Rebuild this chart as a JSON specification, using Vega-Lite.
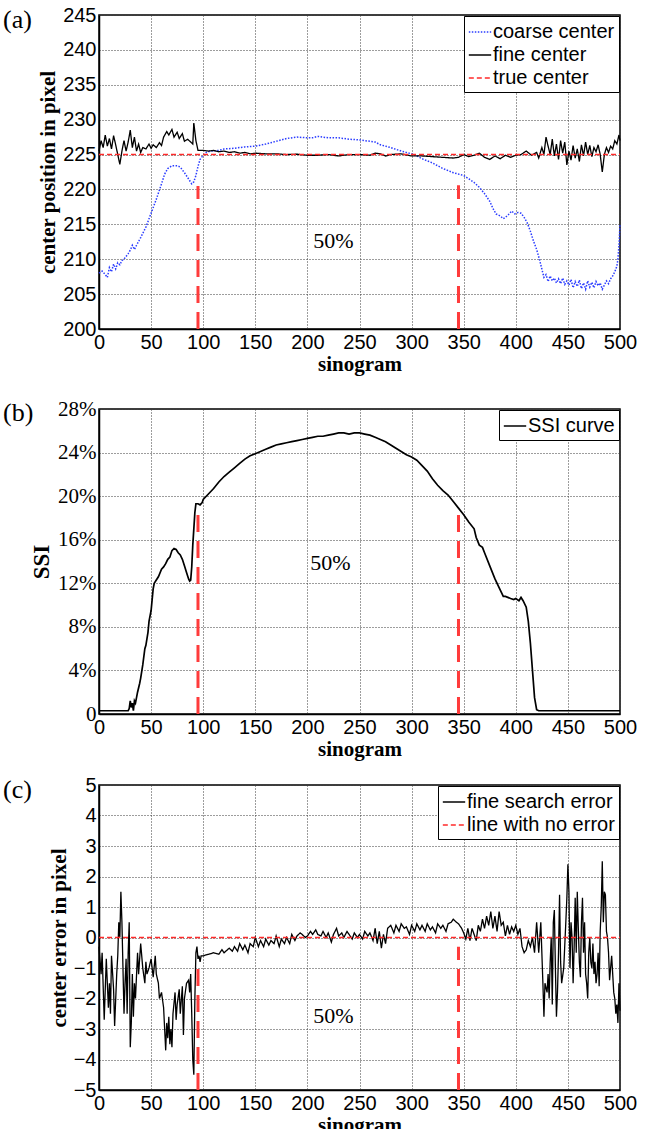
{
"$schema": "https://vega.github.io/schema/vega-lite/v6.json",
"padding": {"left": 2, "top": 4, "right": 0, "bottom": 0},
"background": "white",
"datasets": {
"coarse": [{"s":0,"v":208},{"s":3,"v":208.3},{"s":6,"v":207.8},{"s":8,"v":207.4},{"s":10,"v":208.8},{"s":12,"v":208.2},{"s":14,"v":209.3},{"s":16,"v":208.6},{"s":18,"v":209.5},{"s":20,"v":209.2},{"s":22,"v":209.8},{"s":25,"v":210.2},{"s":28,"v":210.8},{"s":30,"v":211.3},{"s":32,"v":212},{"s":34,"v":211.4},{"s":36,"v":212},{"s":40,"v":213.1},{"s":45,"v":214.6},{"s":50,"v":216.6},{"s":55,"v":218.6},{"s":60,"v":220.8},{"s":63,"v":222.2},{"s":66,"v":223},{"s":70,"v":223.4},{"s":75,"v":223.4},{"s":78,"v":223.2},{"s":82,"v":222.4},{"s":86,"v":221.5},{"s":89,"v":220.8},{"s":91,"v":221.1},{"s":93,"v":222},{"s":95,"v":223.3},{"s":97,"v":224.3},{"s":100,"v":224.9},{"s":103,"v":225.3},{"s":107,"v":225.5},{"s":115,"v":225.6},{"s":120,"v":225.8},{"s":130,"v":225.9},{"s":140,"v":226.1},{"s":150,"v":226.2},{"s":160,"v":226.5},{"s":170,"v":226.9},{"s":180,"v":227.3},{"s":190,"v":227.5},{"s":200,"v":227.4},{"s":205,"v":227.4},{"s":210,"v":227.6},{"s":220,"v":227.4},{"s":230,"v":227.4},{"s":240,"v":227.2},{"s":250,"v":227.1},{"s":260,"v":226.9},{"s":265,"v":226.8},{"s":270,"v":226.4},{"s":280,"v":226},{"s":290,"v":225.5},{"s":300,"v":225.1},{"s":305,"v":224.8},{"s":310,"v":224.4},{"s":320,"v":223.8},{"s":330,"v":223},{"s":340,"v":222.4},{"s":350,"v":222},{"s":355,"v":221.5},{"s":360,"v":221},{"s":365,"v":220.3},{"s":370,"v":219.4},{"s":375,"v":218.3},{"s":378,"v":217.3},{"s":381,"v":216.5},{"s":385,"v":216.2},{"s":388,"v":215.8},{"s":390,"v":216},{"s":393,"v":216.4},{"s":396,"v":216.9},{"s":399,"v":216.5},{"s":402,"v":216.7},{"s":405,"v":216.6},{"s":408,"v":216},{"s":411,"v":215.2},{"s":414,"v":214},{"s":417,"v":212.6},{"s":420,"v":211.4},{"s":423,"v":209.8},{"s":425,"v":208.6},{"s":427,"v":207.4},{"s":429,"v":207.8},{"s":431,"v":206.8},{"s":433,"v":207.6},{"s":435,"v":206.9},{"s":437,"v":207.3},{"s":439,"v":206.6},{"s":441,"v":207.2},{"s":443,"v":206.5},{"s":445,"v":207.3},{"s":447,"v":206.4},{"s":449,"v":206.9},{"s":451,"v":206.3},{"s":453,"v":207.1},{"s":455,"v":205.9},{"s":457,"v":206.8},{"s":459,"v":206.1},{"s":461,"v":207},{"s":463,"v":205.8},{"s":465,"v":206.6},{"s":467,"v":205.7},{"s":469,"v":206.9},{"s":471,"v":206},{"s":473,"v":206.7},{"s":475,"v":205.9},{"s":477,"v":206.8},{"s":479,"v":206.2},{"s":481,"v":206.6},{"s":483,"v":205.7},{"s":485,"v":206.3},{"s":487,"v":206.9},{"s":489,"v":206.5},{"s":491,"v":207.2},{"s":493,"v":207.6},{"s":495,"v":208.2},{"s":497,"v":209},{"s":498,"v":210},{"s":499,"v":212},{"s":500,"v":215}],
"fine": [{"s":0,"v":225.5},{"s":2,"v":227},{"s":4,"v":226},{"s":6,"v":227.8},{"s":8,"v":226.2},{"s":10,"v":227.3},{"s":12,"v":225.8},{"s":14,"v":227.7},{"s":16,"v":226.4},{"s":18,"v":225},{"s":20,"v":223.6},{"s":22,"v":225.5},{"s":24,"v":227},{"s":26,"v":225.5},{"s":28,"v":226.8},{"s":30,"v":228.5},{"s":32,"v":226},{"s":34,"v":227.5},{"s":36,"v":225.5},{"s":38,"v":226.5},{"s":40,"v":225.3},{"s":42,"v":226},{"s":45,"v":225.8},{"s":48,"v":226.5},{"s":50,"v":225.9},{"s":52,"v":226.4},{"s":55,"v":226},{"s":58,"v":226.7},{"s":60,"v":226.3},{"s":62,"v":227.5},{"s":65,"v":228.3},{"s":67,"v":227.8},{"s":70,"v":228.6},{"s":72,"v":227.5},{"s":75,"v":228.2},{"s":77,"v":227.3},{"s":80,"v":228},{"s":82,"v":226.9},{"s":85,"v":227.2},{"s":88,"v":226.8},{"s":90,"v":226.5},{"s":91,"v":229.5},{"s":93,"v":227},{"s":95,"v":225.6},{"s":100,"v":225.6},{"s":105,"v":225.5},{"s":110,"v":225.6},{"s":115,"v":225.4},{"s":120,"v":225.5},{"s":125,"v":225.3},{"s":130,"v":225.4},{"s":135,"v":225.2},{"s":140,"v":225.3},{"s":145,"v":225.1},{"s":150,"v":225.2},{"s":160,"v":225.1},{"s":170,"v":225.1},{"s":180,"v":225},{"s":190,"v":225.05},{"s":200,"v":224.9},{"s":210,"v":224.9},{"s":220,"v":225},{"s":230,"v":224.8},{"s":240,"v":225},{"s":250,"v":225},{"s":260,"v":224.9},{"s":265,"v":225.2},{"s":270,"v":225.1},{"s":275,"v":224.8},{"s":280,"v":225},{"s":290,"v":225.1},{"s":300,"v":224.8},{"s":310,"v":224.8},{"s":320,"v":224.7},{"s":330,"v":224.6},{"s":340,"v":224.5},{"s":345,"v":224.6},{"s":350,"v":225},{"s":355,"v":224.7},{"s":360,"v":224.9},{"s":365,"v":225.2},{"s":370,"v":224.6},{"s":375,"v":224.3},{"s":380,"v":224.8},{"s":385,"v":224.4},{"s":390,"v":224.9},{"s":395,"v":224.6},{"s":400,"v":224.9},{"s":405,"v":225},{"s":410,"v":225.5},{"s":415,"v":224.9},{"s":420,"v":225.3},{"s":422,"v":224.5},{"s":425,"v":226},{"s":427,"v":225},{"s":429,"v":227.5},{"s":431,"v":226.2},{"s":433,"v":225},{"s":435,"v":227.2},{"s":437,"v":224.8},{"s":439,"v":226.5},{"s":441,"v":224.3},{"s":443,"v":227},{"s":445,"v":225.2},{"s":447,"v":226.8},{"s":449,"v":223.5},{"s":451,"v":225.5},{"s":453,"v":224.2},{"s":455,"v":226.3},{"s":457,"v":224.5},{"s":459,"v":225.8},{"s":461,"v":224},{"s":463,"v":226.4},{"s":465,"v":224.8},{"s":467,"v":226.8},{"s":469,"v":225},{"s":471,"v":226.3},{"s":473,"v":224.7},{"s":475,"v":226},{"s":477,"v":225.4},{"s":479,"v":226.4},{"s":481,"v":225},{"s":483,"v":222.5},{"s":485,"v":225},{"s":487,"v":226},{"s":489,"v":225.3},{"s":491,"v":226.2},{"s":493,"v":225.8},{"s":495,"v":227},{"s":497,"v":226.5},{"s":499,"v":227.8},{"s":500,"v":227}],
"trueA": [{"s":0,"v":225},{"s":500,"v":225}],
"vA": [{"s":95,"lo":200,"hi":220.5},{"s":345,"lo":200,"hi":220.6}],
"tA": [{"s":225,"v":212.6,"t":"50%"}],
"ssi": [{"s":0,"v":0.3},{"s":10,"v":0.3},{"s":20,"v":0.3},{"s":28,"v":0.3},{"s":29,"v":0.5},{"s":30,"v":1.2},{"s":31,"v":0.6},{"s":32,"v":1.0},{"s":33,"v":0.3},{"s":34,"v":1.2},{"s":35,"v":1.0},{"s":37,"v":2.0},{"s":39,"v":2.8},{"s":40,"v":3.3},{"s":42,"v":4.5},{"s":44,"v":6.0},{"s":45,"v":6.3},{"s":47,"v":7.5},{"s":48,"v":8.5},{"s":50,"v":9.5},{"s":51,"v":10.5},{"s":52,"v":11.5},{"s":53,"v":12},{"s":55,"v":12.3},{"s":57,"v":12.6},{"s":60,"v":13.3},{"s":62,"v":13.5},{"s":64,"v":13.8},{"s":66,"v":14.2},{"s":68,"v":14.4},{"s":70,"v":15},{"s":72,"v":15.2},{"s":74,"v":15.1},{"s":76,"v":14.8},{"s":78,"v":14.6},{"s":80,"v":14.2},{"s":82,"v":13.6},{"s":84,"v":13},{"s":86,"v":12.4},{"s":87,"v":12.2},{"s":88,"v":12.3},{"s":89,"v":13.5},{"s":90,"v":15.5},{"s":91,"v":17},{"s":92,"v":18.5},{"s":93,"v":19.3},{"s":95,"v":19.3},{"s":97,"v":19.2},{"s":99,"v":19.4},{"s":100,"v":19.7},{"s":105,"v":20.2},{"s":110,"v":20.7},{"s":115,"v":21.3},{"s":120,"v":21.8},{"s":125,"v":22.2},{"s":130,"v":22.6},{"s":135,"v":23},{"s":140,"v":23.4},{"s":145,"v":23.7},{"s":150,"v":23.9},{"s":155,"v":24.1},{"s":160,"v":24.3},{"s":165,"v":24.5},{"s":170,"v":24.7},{"s":175,"v":24.8},{"s":180,"v":24.9},{"s":185,"v":25.0},{"s":190,"v":25.1},{"s":195,"v":25.2},{"s":200,"v":25.3},{"s":205,"v":25.4},{"s":210,"v":25.5},{"s":215,"v":25.5},{"s":220,"v":25.6},{"s":225,"v":25.7},{"s":230,"v":25.8},{"s":235,"v":25.8},{"s":240,"v":25.7},{"s":245,"v":25.8},{"s":250,"v":25.8},{"s":255,"v":25.7},{"s":260,"v":25.6},{"s":265,"v":25.4},{"s":270,"v":25.2},{"s":275,"v":25},{"s":280,"v":24.7},{"s":285,"v":24.4},{"s":290,"v":24.1},{"s":295,"v":23.8},{"s":300,"v":23.6},{"s":305,"v":23.3},{"s":310,"v":22.8},{"s":315,"v":22.3},{"s":320,"v":21.6},{"s":325,"v":21},{"s":330,"v":20.5},{"s":335,"v":20.1},{"s":340,"v":19.5},{"s":345,"v":18.9},{"s":350,"v":18.3},{"s":355,"v":17.6},{"s":360,"v":17},{"s":362,"v":16.2},{"s":365,"v":15.5},{"s":368,"v":15.3},{"s":370,"v":14.8},{"s":375,"v":13.6},{"s":380,"v":12.4},{"s":385,"v":11.4},{"s":388,"v":10.8},{"s":390,"v":10.8},{"s":395,"v":10.6},{"s":398,"v":10.5},{"s":400,"v":10.6},{"s":403,"v":10.4},{"s":405,"v":10.7},{"s":407,"v":10.4},{"s":410,"v":9.8},{"s":412,"v":8.5},{"s":414,"v":6.5},{"s":416,"v":4.0},{"s":418,"v":1.5},{"s":420,"v":0.4},{"s":422,"v":0.3},{"s":430,"v":0.3},{"s":500,"v":0.3}],
"vB": [{"s":95,"lo":0,"hi":18.5},{"s":345,"lo":0,"hi":18.5}],
"tB": [{"s":222,"v":13.9,"t":"50%"}],
"err": [{"s":0,"v":-0.3},{"s":2,"v":-1.2},{"s":3,"v":-0.5},{"s":5,"v":-2.7},{"s":7,"v":-0.7},{"s":9,"v":-2.3},{"s":10,"v":-1.5},{"s":11,"v":-2.5},{"s":12,"v":-0.6},{"s":14,"v":-1.7},{"s":15,"v":-2.9},{"s":17,"v":-1.2},{"s":18,"v":-0.6},{"s":19,"v":0.5},{"s":20,"v":0},{"s":21,"v":1.5},{"s":22,"v":0.5},{"s":23,"v":-1},{"s":24,"v":-2.5},{"s":25,"v":-1.5},{"s":26,"v":-0.7},{"s":27,"v":-2.5},{"s":28,"v":-0.5},{"s":29,"v":0.5},{"s":30,"v":-3.6},{"s":31,"v":-2.8},{"s":32,"v":-1.2},{"s":33,"v":-2.6},{"s":34,"v":-1.5},{"s":35,"v":-2},{"s":37,"v":-0.5},{"s":38,"v":-1.2},{"s":40,"v":-0.2},{"s":42,"v":-1},{"s":44,"v":-1.5},{"s":45,"v":-0.8},{"s":46,"v":-1.2},{"s":48,"v":-1},{"s":50,"v":-0.7},{"s":52,"v":-1.3},{"s":54,"v":-0.6},{"s":55,"v":-1.2},{"s":57,"v":-1.5},{"s":58,"v":-2},{"s":60,"v":-1.8},{"s":62,"v":-2.3},{"s":63,"v":-3},{"s":64,"v":-3.7},{"s":65,"v":-2.8},{"s":66,"v":-3.3},{"s":67,"v":-2.6},{"s":68,"v":-3.5},{"s":69,"v":-3},{"s":70,"v":-3.6},{"s":71,"v":-2.5},{"s":73,"v":-1.8},{"s":74,"v":-2.7},{"s":75,"v":-2.2},{"s":77,"v":-1.7},{"s":78,"v":-2.5},{"s":80,"v":-1.6},{"s":81,"v":-3.2},{"s":82,"v":-2},{"s":84,"v":-1.5},{"s":86,"v":-1.4},{"s":87,"v":-1.8},{"s":88,"v":-1.2},{"s":89,"v":-2.5},{"s":90,"v":-4},{"s":91,"v":-4.5},{"s":92,"v":-2},{"s":93,"v":-0.5},{"s":94,"v":-0.3},{"s":95,"v":-0.7},{"s":96,"v":-0.6},{"s":97,"v":-0.8},{"s":98,"v":-0.6},{"s":100,"v":-0.6},{"s":105,"v":-0.55},{"s":110,"v":-0.5},{"s":115,"v":-0.55},{"s":118,"v":-0.4},{"s":120,"v":-0.5},{"s":125,"v":-0.35},{"s":128,"v":-0.45},{"s":130,"v":-0.3},{"s":133,"v":-0.45},{"s":135,"v":-0.2},{"s":138,"v":-0.4},{"s":140,"v":-0.25},{"s":143,"v":-0.5},{"s":145,"v":-0.2},{"s":148,"v":-0.3},{"s":150,"v":0},{"s":153,"v":-0.3},{"s":155,"v":-0.1},{"s":158,"v":-0.3},{"s":160,"v":-0.05},{"s":163,"v":-0.25},{"s":165,"v":-0.1},{"s":168,"v":-0.2},{"s":170,"v":0.05},{"s":173,"v":-0.3},{"s":175,"v":-0.05},{"s":178,"v":-0.2},{"s":180,"v":0},{"s":183,"v":-0.2},{"s":185,"v":0.1},{"s":188,"v":-0.1},{"s":190,"v":0.05},{"s":193,"v":0.15},{"s":195,"v":0.1},{"s":198,"v":0},{"s":200,"v":0.05},{"s":203,"v":0.2},{"s":205,"v":0.1},{"s":208,"v":0.25},{"s":210,"v":0.1},{"s":213,"v":0.05},{"s":215,"v":0.2},{"s":218,"v":0},{"s":220,"v":0.15},{"s":223,"v":-0.15},{"s":225,"v":0.1},{"s":228,"v":0.3},{"s":230,"v":0.05},{"s":233,"v":0.15},{"s":235,"v":0},{"s":238,"v":0.2},{"s":240,"v":0.1},{"s":243,"v":-0.05},{"s":245,"v":0.15},{"s":248,"v":0},{"s":250,"v":0.1},{"s":253,"v":-0.05},{"s":255,"v":0.2},{"s":258,"v":0.05},{"s":260,"v":0.15},{"s":263,"v":-0.1},{"s":265,"v":0.3},{"s":267,"v":-0.2},{"s":269,"v":0.2},{"s":271,"v":-0.35},{"s":273,"v":0.1},{"s":275,"v":-0.2},{"s":277,"v":0.3},{"s":280,"v":0.4},{"s":283,"v":0.15},{"s":285,"v":0.4},{"s":288,"v":0.2},{"s":290,"v":0.45},{"s":293,"v":0.3},{"s":295,"v":0.35},{"s":298,"v":0.1},{"s":300,"v":0.4},{"s":303,"v":0.2},{"s":305,"v":0.45},{"s":308,"v":0.25},{"s":310,"v":0.4},{"s":313,"v":0.2},{"s":315,"v":0.45},{"s":318,"v":0.25},{"s":320,"v":0.35},{"s":323,"v":0.15},{"s":325,"v":0.45},{"s":328,"v":0.3},{"s":330,"v":0.4},{"s":333,"v":0.2},{"s":335,"v":0.45},{"s":338,"v":0.5},{"s":340,"v":0.6},{"s":343,"v":0.5},{"s":345,"v":0.45},{"s":348,"v":0.3},{"s":350,"v":0.15},{"s":352,"v":-0.05},{"s":354,"v":0.3},{"s":356,"v":-0.1},{"s":358,"v":0.3},{"s":360,"v":0.1},{"s":362,"v":-0.1},{"s":364,"v":0.4},{"s":366,"v":0.2},{"s":368,"v":0.6},{"s":370,"v":0.3},{"s":372,"v":0.7},{"s":374,"v":0.4},{"s":376,"v":0.85},{"s":378,"v":0.3},{"s":380,"v":0.7},{"s":382,"v":0.2},{"s":384,"v":0.85},{"s":386,"v":0.4},{"s":388,"v":0.5},{"s":390,"v":0.05},{"s":392,"v":0.4},{"s":394,"v":0.1},{"s":396,"v":0.35},{"s":398,"v":0.2},{"s":400,"v":0.4},{"s":402,"v":0.1},{"s":404,"v":0.3},{"s":406,"v":-0.3},{"s":408,"v":-0.5},{"s":410,"v":-0.4},{"s":412,"v":-0.1},{"s":414,"v":-0.3},{"s":416,"v":0},{"s":418,"v":-0.5},{"s":420,"v":0.5},{"s":422,"v":-0.5},{"s":424,"v":0.5},{"s":426,"v":-1.5},{"s":427,"v":-2.6},{"s":428,"v":-1.5},{"s":430,"v":-1.8},{"s":431,"v":-1.2},{"s":432,"v":-2},{"s":433,"v":-0.8},{"s":434,"v":0},{"s":435,"v":-2.2},{"s":436,"v":0.5},{"s":437,"v":0.9},{"s":438,"v":-1},{"s":439,"v":-2.6},{"s":440,"v":-1.8},{"s":441,"v":-0.5},{"s":442,"v":1.4},{"s":443,"v":-0.8},{"s":444,"v":-1.5},{"s":446,"v":-1},{"s":448,"v":0.5},{"s":449,"v":1.3},{"s":450,"v":2.4},{"s":451,"v":1.5},{"s":452,"v":-1},{"s":453,"v":0.5},{"s":454,"v":0},{"s":455,"v":-1.5},{"s":456,"v":-0.3},{"s":457,"v":1.3},{"s":458,"v":-0.5},{"s":459,"v":1.5},{"s":460,"v":0.3},{"s":461,"v":-0.8},{"s":462,"v":-1.3},{"s":463,"v":0.5},{"s":464,"v":1.3},{"s":465,"v":-0.5},{"s":466,"v":0.5},{"s":467,"v":-1.2},{"s":468,"v":-1.5},{"s":469,"v":-2},{"s":470,"v":-0.5},{"s":471,"v":0},{"s":472,"v":-0.8},{"s":473,"v":-1},{"s":474,"v":-0.2},{"s":475,"v":-1.2},{"s":476,"v":-0.8},{"s":477,"v":-1.5},{"s":478,"v":-1.2},{"s":479,"v":-0.5},{"s":480,"v":-1.6},{"s":481,"v":0.2},{"s":482,"v":1},{"s":483,"v":2.5},{"s":484,"v":0.5},{"s":485,"v":1.5},{"s":486,"v":1.4},{"s":487,"v":0.2},{"s":488,"v":0},{"s":489,"v":-0.5},{"s":490,"v":-1.4},{"s":491,"v":-1},{"s":492,"v":-0.6},{"s":493,"v":-1.2},{"s":494,"v":-1.8},{"s":495,"v":-2},{"s":496,"v":-2.5},{"s":497,"v":-2.2},{"s":498,"v":-2.8},{"s":499,"v":-1.5},{"s":500,"v":-2.4}],
"zeroC": [{"s":0,"v":0},{"s":500,"v":0}],
"vC": [{"s":95,"lo":-5,"hi":-0.9},{"s":345,"lo":-5,"hi":-0.3}],
"tC": [{"s":225,"v":-2.57,"t":"50%"}]
},
"vconcat": [
{
"width": 521, "height": 314,
"title": {"text": "(a)"},
"layer": [
{"data": {"name": "coarse"}, "mark": {"type": "line", "strokeWidth": 1.5},
 "encoding": {
  "x": {"field": "s", "type": "quantitative", "scale": {"domain": [0, 500], "nice": false}, "axis": {"values": [0,50,100,150,200,250,300,350,400,450,500], "tickCount": 20, "format": "d", "title": "sinogram", "labelOverlap": false}},
  "y": {"field": "v", "type": "quantitative", "scale": {"domain": [200, 245], "nice": false, "zero": false}, "axis": {"values": [200,205,210,215,220,225,230,235,240,245], "tickCount": 20, "format": "d", "title": "center position in pixel", "labelOverlap": false}},
  "color": {"datum": "coarse center", "scale": {"domain": ["coarse center", "fine center", "true center"], "range": ["#2a3cff", "#000000", "#ff2a2a"]}, "legend": {"title": null}},
  "strokeDash": {"datum": "coarse center", "scale": {"domain": ["coarse center", "fine center", "true center"], "range": [[1.5, 1.5], [1, 0], [5, 3]]}, "legend": {"title": null}}
 }},
{"data": {"name": "fine"}, "mark": {"type": "line", "strokeWidth": 1.3},
 "encoding": {"x": {"field": "s", "type": "quantitative"}, "y": {"field": "v", "type": "quantitative"}, "color": {"datum": "fine center"}, "strokeDash": {"datum": "fine center"}}},
{"data": {"name": "trueA"}, "mark": {"type": "line", "strokeWidth": 1.5},
 "encoding": {"x": {"field": "s", "type": "quantitative"}, "y": {"field": "v", "type": "quantitative"}, "color": {"datum": "true center"}, "strokeDash": {"datum": "true center"}}},
{"data": {"name": "vA"}, "mark": {"type": "rule", "color": "#ff3b3b", "strokeWidth": 3, "strokeDash": [17, 9]},
 "encoding": {"x": {"field": "s", "type": "quantitative"}, "y": {"field": "lo", "type": "quantitative"}, "y2": {"field": "hi"}}},
{"data": {"name": "tA"}, "mark": {"type": "text", "font": "Liberation Serif", "fontSize": 22, "color": "black"},
 "encoding": {"x": {"field": "s", "type": "quantitative"}, "y": {"field": "v", "type": "quantitative"}, "text": {"field": "t"}}}
]
},
{
"vconcat": [
{
"width": 521, "height": 305,
"title": {"text": "(b)"},
"layer": [
{"data": {"name": "ssi"}, "mark": {"type": "line", "strokeWidth": 1.7},
 "encoding": {
  "x": {"field": "s", "type": "quantitative", "scale": {"domain": [0, 500], "nice": false}, "axis": {"values": [0,50,100,150,200,250,300,350,400,450,500], "tickCount": 20, "format": "d", "title": "sinogram", "labelOverlap": false}},
  "y": {"field": "v", "type": "quantitative", "scale": {"domain": [0, 28], "nice": false}, "axis": {"values": [0,4,8,12,16,20,24,28], "tickCount": 20, "title": "SSI", "labelOverlap": false, "labelExpr": "datum.value == 0 ? '0' : datum.value + '%'", "labelFont": "Liberation Sans Narrow", "labelFontSize": 21, "titleFontSize": 23}},
  "color": {"datum": "SSI curve", "scale": {"domain": ["SSI curve"], "range": ["#000000"]}, "legend": {"title": null}}
 }},
{"data": {"name": "vB"}, "mark": {"type": "rule", "color": "#ff3b3b", "strokeWidth": 3, "strokeDash": [17, 9]},
 "encoding": {"x": {"field": "s", "type": "quantitative"}, "y": {"field": "lo", "type": "quantitative"}, "y2": {"field": "hi"}}},
{"data": {"name": "tB"}, "mark": {"type": "text", "font": "Liberation Serif", "fontSize": 22, "color": "black"},
 "encoding": {"x": {"field": "s", "type": "quantitative"}, "y": {"field": "v", "type": "quantitative"}, "text": {"field": "t"}}}
]
},
{
"width": 521, "height": 305,
"title": {"text": "(c)"},
"layer": [
{"data": {"name": "err"}, "mark": {"type": "line", "strokeWidth": 1.3},
 "encoding": {
  "x": {"field": "s", "type": "quantitative", "scale": {"domain": [0, 500], "nice": false}, "axis": {"values": [0,50,100,150,200,250,300,350,400,450,500], "tickCount": 20, "format": "d", "title": "sinogram", "labelOverlap": false}},
  "y": {"field": "v", "type": "quantitative", "scale": {"domain": [-5, 5], "nice": false, "zero": false}, "axis": {"values": [-5,-4,-3,-2,-1,0,1,2,3,4,5], "tickCount": 20, "format": "d", "title": "center error in pixel", "labelOverlap": false}},
  "color": {"datum": "fine search error", "scale": {"domain": ["fine search error", "line with no error"], "range": ["#000000", "#ff2a2a"]}, "legend": {"title": null}},
  "strokeDash": {"datum": "fine search error", "scale": {"domain": ["fine search error", "line with no error"], "range": [[1, 0], [5, 3]]}, "legend": {"title": null}}
 }},
{"data": {"name": "zeroC"}, "mark": {"type": "line", "strokeWidth": 1.5},
 "encoding": {"x": {"field": "s", "type": "quantitative"}, "y": {"field": "v", "type": "quantitative"}, "color": {"datum": "line with no error"}, "strokeDash": {"datum": "line with no error"}}},
{"data": {"name": "vC"}, "mark": {"type": "rule", "color": "#ff3b3b", "strokeWidth": 3, "strokeDash": [17, 9]},
 "encoding": {"x": {"field": "s", "type": "quantitative"}, "y": {"field": "lo", "type": "quantitative"}, "y2": {"field": "hi"}}},
{"data": {"name": "tC"}, "mark": {"type": "text", "font": "Liberation Serif", "fontSize": 22, "color": "black"},
 "encoding": {"x": {"field": "s", "type": "quantitative"}, "y": {"field": "v", "type": "quantitative"}, "text": {"field": "t"}}}
]
}
],
"spacing": 71,
"bounds": "flush",
"resolve": {"scale": {"color": "independent", "strokeDash": "independent", "x": "independent", "y": "independent"}, "legend": {"color": "independent", "strokeDash": "independent"}}
}
],
"spacing": 80,
"bounds": "flush",
"resolve": {"scale": {"color": "independent", "strokeDash": "independent", "x": "independent", "y": "independent"}, "legend": {"color": "independent", "strokeDash": "independent"}},
"config": {
 "view": {"stroke": "black", "strokeWidth": 1.5},
 "axis": {"grid": true, "gridColor": "#3a3a3a", "gridDash": [1, 2], "gridWidth": 1, "domainColor": "black", "domainWidth": 1.5, "ticks": false, "labelFont": "Liberation Sans", "labelFontSize": 20, "labelColor": "black", "titleFont": "Liberation Serif", "titleFontSize": 21, "titleFontWeight": "bold", "titleColor": "black", "labelFlush": false, "labelOverlap": false},
 "axisX": {"labelPadding": 3, "titlePadding": 1},
 "axisY": {"labelPadding": 3, "titlePadding": 4},
 "legend": {"orient": "top-right", "offset": 1, "strokeColor": "black", "fillColor": "white", "padding": 4, "labelFont": "Liberation Sans", "labelFontSize": 20, "labelColor": "black", "symbolType": "stroke", "symbolSize": 500, "symbolStrokeWidth": 1.5, "rowPadding": 1, "labelOffset": 1},
 "title": {"anchor": "start", "frame": "group", "font": "Liberation Serif", "fontSize": 26, "fontWeight": "normal", "color": "black", "offset": 0, "baseline": "alphabetic", "dx": -96, "dy": 32}
}
}
